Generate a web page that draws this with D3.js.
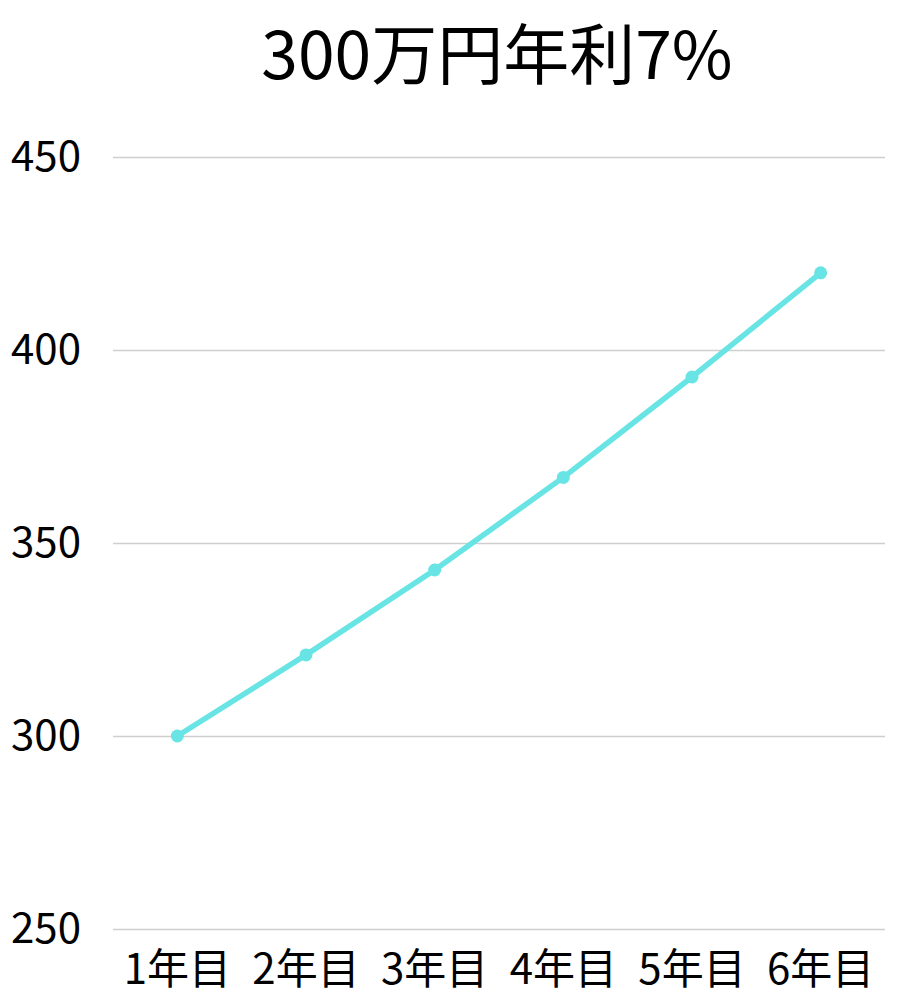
<!DOCTYPE html>
<html>
<head>
<meta charset="utf-8">
<script src="https://cdn.jsdelivr.net/npm/d3@7"></script>
<style>
  body { margin: 0; background: #fff; }
  text { font-family: "Noto Sans CJK JP", "Noto Sans", sans-serif; fill: #000; }
</style>
</head>
<body>
<script>
const title = '300万円年利7%';
const years = ['1年目', '2年目', '3年目', '4年目', '5年目', '6年目'];
const values = [300, 321, 343, 367, 393, 420];
const yTicks = [250, 300, 350, 400, 450];

let width = 921, height = 1004;
let margin = {top: 157, right: 36, bottom: 75, left: 113};

let svg = d3.select('body').append('svg')
  .attr('width', width)
  .attr('height', height);

let x = d3.scaleBand()
  .domain(years)
  .range([margin.left, width - margin.right]);

let y = d3.scaleLinear()
  .domain([250, 450])
  .range([height - margin.bottom, margin.top]);

// title
svg.append('text')
  .attr('x', 497)
  .attr('y', 79)
  .attr('text-anchor', 'middle')
  .style('font-size', '66px')
  .text(title);

// grid lines + y labels
let yAxis = svg.append('g')
  .attr('transform', 'translate(' + margin.left + ',0)')
  .call(d3.axisLeft(y).tickValues(yTicks).tickSize(-(width - margin.left - margin.right)).tickPadding(32));
yAxis.select('.domain').remove();
yAxis.selectAll('.tick line').attr('stroke', '#cfcfcf').attr('stroke-width', 1.5);
yAxis.selectAll('.tick text')
  .style('font-size', '42px')
  .attr('fill', '#000');

// x labels
let xAxis = svg.append('g')
  .attr('transform', 'translate(0,' + (height - margin.bottom) + ')')
  .call(d3.axisBottom(x).tickSize(0).tickPadding(25));
xAxis.select('.domain').remove();
xAxis.selectAll('.tick text')
  .style('font-size', '42px')
  .attr('fill', '#000');

let data = years.map((d, i) => ({year: d, value: values[i]}));

let line = d3.line()
  .x(d => x(d.year) + x.bandwidth() / 2)
  .y(d => y(d.value));

svg.append('path')
  .datum(data)
  .attr('d', line)
  .attr('fill', 'none')
  .attr('stroke', '#68e4e4')
  .attr('stroke-width', 5.5);

svg.selectAll('.dot')
  .data(data)
  .enter().append('circle')
  .attr('class', 'dot')
  .attr('cx', d => x(d.year) + x.bandwidth() / 2)
  .attr('cy', d => y(d.value))
  .attr('r', 6.5)
  .attr('fill', '#68e4e4');
</script>
</body>
</html>
